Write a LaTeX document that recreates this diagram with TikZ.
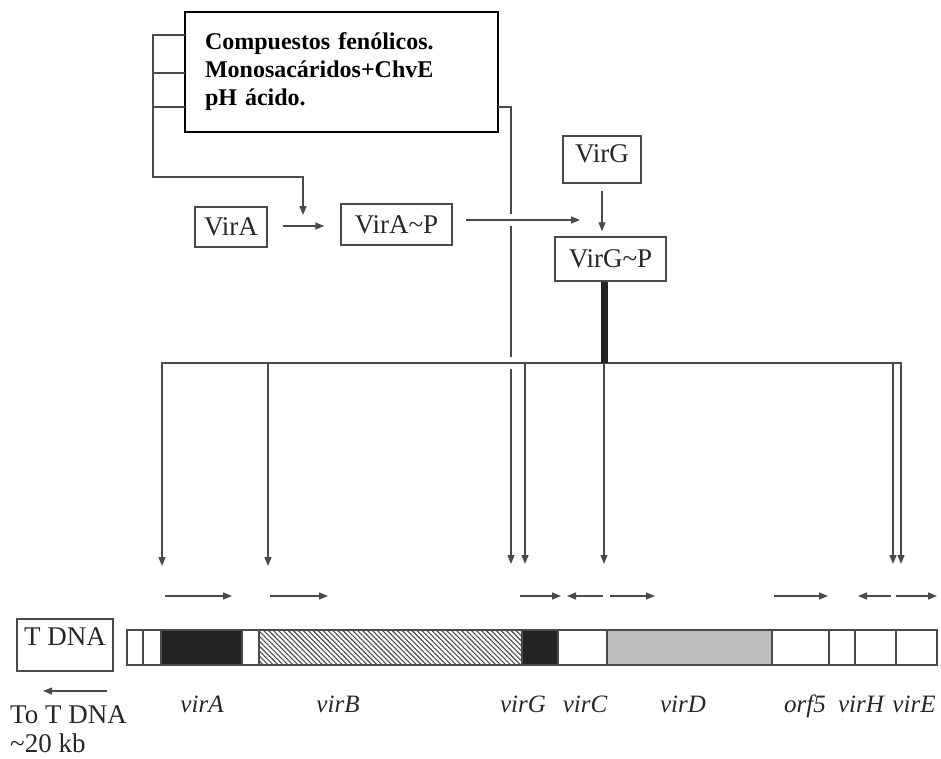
\documentclass[tikz,border=0pt]{standalone}
\usepackage{fontspec}
\setmainfont{Liberation Serif}
\usetikzlibrary{arrows.meta,patterns.meta}
\definecolor{ln}{HTML}{4A4A4A}
\definecolor{ink}{HTML}{262626}
\definecolor{blk}{HTML}{232323}
\definecolor{stip}{HTML}{BEBEBE}
\tikzset{
  lbl/.style={font=\fontsize{27}{31}\selectfont, text=ink},
  vbox/.style={draw=ln, line width=1.5pt, inner sep=0pt, lbl},
  conn/.style={draw=ln, line width=1.3pt},
  arr/.style={conn, -{Triangle[length=9pt,width=7pt]}},
  gap/.style={preaction={draw=white, line width=12pt, -}},
  seg/.style={draw=ln, line width=1.2pt},
  gene/.style={font=\fontsize{25}{29}\selectfont\itshape, text=ink, anchor=base, inner sep=0pt},
  plain/.style={font=\fontsize{27}{30}\selectfont, text=ink, anchor=base west, inner sep=0pt},
}
\begin{document}
\begin{tikzpicture}[x=1pt,y=-1pt]
\useasboundingbox (0,0) rectangle (941,758);

% top box
\node[draw=black, line width=2pt, minimum width=313pt, minimum height=120pt,
      inner xsep=20pt, inner ysep=0pt, text width=273pt, align=left,
      font=\fontsize{24}{28}\selectfont\bfseries, text=black]
  (topbox) at (341.5,72) {Compuestos fenólicos.\\Monosacáridos+ChvE\\pH ácido.};

% bracket on the left
\coordinate (b1) at (185,35);
\coordinate (b2) at (185,73);
\coordinate (b3) at (185,107);
\coordinate (bin) at (303,215);
\draw[arr] (b1) -- (153,35) -- (153,177) -| (bin);
\draw[conn] (b2) -- (153,73);
\draw[conn] (b3) -- (153,107);

% boxes
\node[vbox, minimum width=72pt, minimum height=40pt] (VirA) at (231,227) {VirA};
\node[vbox, minimum width=111pt, minimum height=41pt] (VirAP) at (396.5,224.5) {VirA\textasciitilde P};
\node[vbox, minimum width=78pt, minimum height=47pt, text height=12pt, text depth=6pt] (VirG) at (602,159.5) {VirG};
\node[vbox, minimum width=111pt, minimum height=44pt] (VirGP) at (610.5,259) {VirG\textasciitilde P};

% right line from the top box down to virG
\coordinate (r1) at (498,107);
\coordinate (gG1) at (511,564);
\draw[arr] (r1) -| (gG1);

% VirA -> VirA~P
\draw[arr, shorten <=15pt, shorten >=16pt] (VirA.east |- 0,226) -- (VirAP.west |- 0,226);
% VirA~P -> junction
\coordinate (junc) at (580,220);
\draw[arr, gap, shorten <=13pt] (VirAP.east |- junc) -- (junc);
% VirG -> VirG~P
\draw[arr, shorten <=7pt, shorten >=5pt] (VirG.south) -- (VirG.south |- VirGP.north);

% bus
\coordinate (hub) at (604,363);
\coordinate (gA) at (162,566);
\coordinate (gE2) at (901,564);
\draw[arr, gap] (hub) -| (gE2);
\draw[arr, gap] (hub) -| (gA);

% thick bar from VirG~P to bus
\draw[blk, line width=7pt] (VirGP.south -| hub) -- (hub);

% downward arrows
\coordinate (gB) at (268,566);
\coordinate (gG2) at (525,564);
\coordinate (gC) at (604,564);
\coordinate (gE1) at (893,564);
\draw[arr] (gB |- hub) -- (gB);
\draw[arr] (gG2 |- hub) -- (gG2);
\draw[arr] (hub) -- (gC);
\draw[arr] (gE1 |- hub) -- (gE1);

% transcription arrows
\foreach \a/\b/\n in {165/232/1, 270/328/2, 520/561/3, 603/567/4, 610/655/5, 774/828/6, 891/858/7, 896/937/8}{
  \coordinate (ts\n) at (\a,596);
  \coordinate (te\n) at (\b,596);
  \draw[arr] (ts\n) -- (te\n);
}

% gene bar
\draw[seg, fill=white] (127,630) rectangle (143,665);
\draw[seg, fill=white] (143,630) rectangle (161,665);
\draw[seg, fill=blk] (161,630) rectangle (242,665);
\draw[seg, fill=white] (242,630) rectangle (259,665);
\draw[seg, pattern={Lines[angle=-45,distance=3.5pt,line width=1.1pt]}, pattern color=ln] (259,630) rectangle (522,665);
\draw[seg, fill=blk] (522,630) rectangle (558,665);
\draw[seg, fill=white] (558,630) rectangle (607,665);
\draw[seg, fill=stip] (607,630) rectangle (772,665);
\draw[seg, fill=white] (772,630) rectangle (829,665);
\draw[seg, fill=white] (829,630) rectangle (855,665);
\draw[seg, fill=white] (855,630) rectangle (896,665);
\draw[seg, fill=white] (896,630) rectangle (937,665);

% T DNA box and text
\node[vbox, minimum width=96pt, minimum height=52pt, text height=10pt, text depth=10pt] (TDNA) at (65,645) {T DNA};
\coordinate (tl1) at (107,691);
\coordinate (tl2) at (43,691);
\draw[arr] (tl1) -- (tl2);
\node[plain] (toT) at (10,723) {To T DNA};
\node[plain] (kb) at (10,752) {\textasciitilde20 kb};

% gene labels
\node[gene] (lA) at (202,712) {virA};
\node[gene] (lB) at (338,712) {virB};
\node[gene] (lG) at (523,712) {virG};
\node[gene] (lC) at (585,712) {virC};
\node[gene] (lD) at (683,712) {virD};
\node[gene] (lO) at (805,712) {orf5};
\node[gene] (lH) at (861,712) {virH};
\node[gene] (lE) at (914,712) {virE};
\end{tikzpicture}
\end{document}
